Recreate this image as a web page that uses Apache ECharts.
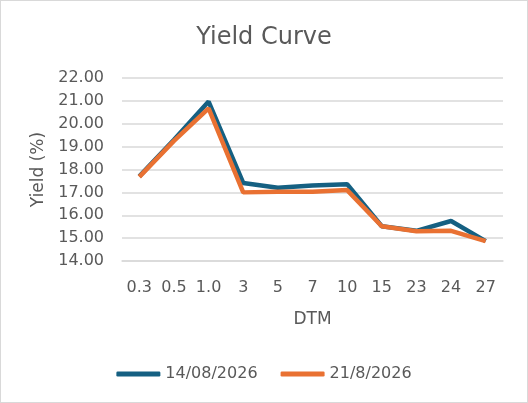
<!DOCTYPE html>
<html>
<head>
<meta charset="utf-8">
<script src="https://cdn.jsdelivr.net/npm/echarts@6/dist/echarts.min.js"></script>
<style>
  html, body { margin: 0; padding: 0; background: #fff; }
  #chart { width: 528px; height: 403px; box-sizing: border-box; border: 1px solid #d9d9d9; }
</style>
</head>
<body>
<div id="chart"></div>
<script>
var dtm = ['0.3', '0.5', '1.0', '3', '5', '7', '10', '15', '23', '24', '27'];
var yield1408 = [17.70, 19.30, 20.97, 17.41, 17.20, 17.30, 17.36, 15.52, 15.32, 15.75, 14.87];
var yield2108 = [17.68, 19.25, 20.67, 17.00, 17.03, 17.03, 17.10, 15.52, 15.30, 15.32, 14.87];

var font = 'DejaVu Sans';
var chart = echarts.init(document.getElementById('chart'));
var option = {
    title: {
        text: 'Yield Curve',
        left: 'center',
        top: 20,
        textStyle: { fontFamily: font, fontSize: 24, fontWeight: 'normal', color: '#595959' }
    },
    legend: {
        bottom: 15,
        left: 'center',
        icon: 'roundRect',
        itemWidth: 44,
        itemHeight: 5,
        itemGap: 23,
        textStyle: { fontFamily: font, fontSize: 16, color: '#595959' },
        data: ['14/08/2026', '21/8/2026']
    },
    grid: { left: 121, right: 24, top: 77, bottom: 141 },
    xAxis: {
        type: 'category',
        data: dtm,
        name: 'DTM',
        nameLocation: 'middle',
        nameGap: 50,
        nameTextStyle: { fontFamily: font, fontSize: 17, color: '#595959' },
        axisLine: { lineStyle: { color: '#d9d9d9', width: 1.5 } },
        axisTick: { show: false },
        axisLabel: { fontFamily: font, fontSize: 16, color: '#595959', margin: 19 }
    },
    yAxis: {
        type: 'value',
        min: 14,
        max: 22,
        interval: 1,
        name: 'Yield (%)',
        nameLocation: 'middle',
        nameGap: 68,
        nameTextStyle: { fontFamily: font, fontSize: 17, color: '#595959' },
        axisLabel: {
            fontFamily: font, fontSize: 16, color: '#595959', margin: 18,
            formatter: function (v) { return v.toFixed(2); }
        },
        splitLine: { lineStyle: { color: '#d9d9d9', width: 1.5 } }
    },
    series: [{
        name: '14/08/2026',
        type: 'line',
        data: yield1408,
        showSymbol: false,
        lineStyle: { color: '#156082', width: 4.5 },
        itemStyle: { color: '#156082' }
    }, {
        name: '21/8/2026',
        type: 'line',
        data: yield2108,
        showSymbol: false,
        lineStyle: { color: '#E97132', width: 4.5 },
        itemStyle: { color: '#E97132' }
    }]
};
chart.setOption(option);
</script>
</body>
</html>
